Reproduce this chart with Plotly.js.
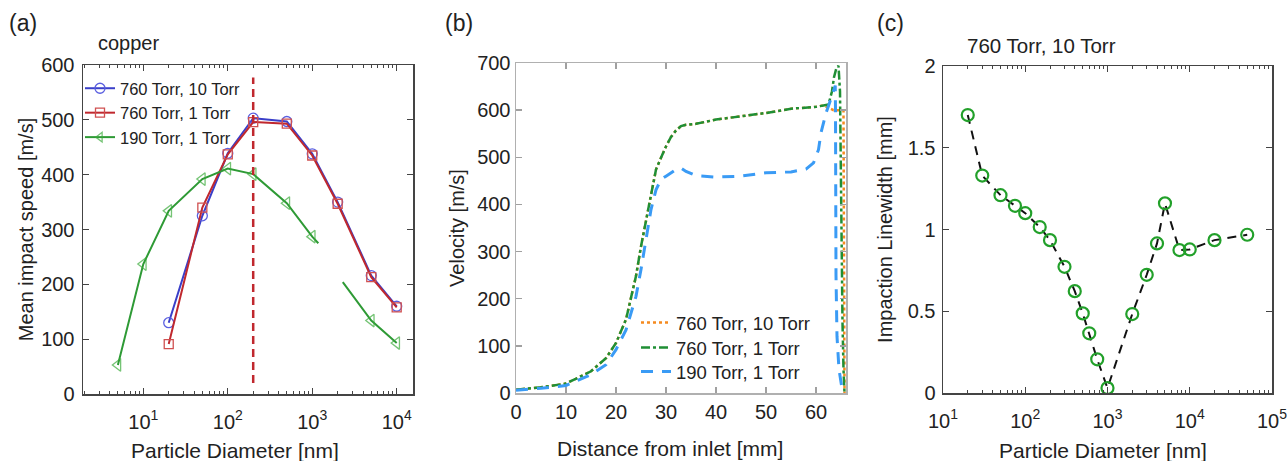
<!DOCTYPE html>
<html>
<head>
<meta charset="utf-8">
<script src="https://cdn.plot.ly/plotly-3.0.1.min.js"></script>
<style>
  html, body { margin: 0; padding: 0; background: #ffffff; }
  #chart { width: 1287px; height: 461px; }
</style>
</head>
<body>
<div id="chart"></div>
<script>
// ---- (a) copper: mean impact speed vs particle diameter ----
const diamA = [20, 50, 100, 200, 500, 1000, 2000, 5000, 10000];
const speed760_10 = [130, 325, 439, 503, 497, 438, 350, 216, 160];
const speed760_1 = [91, 340, 437, 496, 493, 435, 347, 213, 158];
// 190 Torr series: the line is broken between ~1.2 um and ~2.3 um
const diam190 = [5, 10, 20, 50, 100, 200, 500, 1000, 1180, null, 2300, 5000, 10000];
const speed190_1 = [53, 237, 334, 392, 411, 401, 348, 287, 275, null, 204, 134, 93];
const hasMarker190 = [1, 1, 1, 1, 1, 1, 1, 1, 0, 0, 0, 1, 1];
const cutDiam = 200;
const cutSpan = [20, 577];
const decadeTicksA = [10, 100, 1000, 10000];
const decadeLabelsA = ['10<sup>1</sup>', '10<sup>2</sup>', '10<sup>3</sup>', '10<sup>4</sup>'];

// ---- (b) particle velocity along the nozzle ----
const dist760_10 = [0, 5, 10, 15, 18, 20, 22, 24, 25, 26, 27, 28, 29, 30, 31, 32, 33, 34, 36, 40, 45, 50, 55, 60, 61.5, 62.5, 63.5, 65.5, 65.6, 65.7];
const vel760_10 = [7, 12, 20, 46, 74, 106, 156, 248, 311, 368, 417, 474, 499, 523, 543, 557, 566, 569, 571, 580, 587, 594, 603, 607, 610, 605, 600, 600, 300, 0];
const dist760_1 = [0, 5, 10, 15, 18, 20, 22, 24, 25, 26, 27, 28, 29, 30, 31, 32, 33, 34, 36, 40, 45, 50, 55, 60, 61.5, 62.5, 63.2, 63.6, 64.1, 64.5, 64.8, 64.9, 65.1, 65.3, 65.5, 65.7];
const vel760_1 = [7, 12, 20, 46, 74, 106, 156, 248, 311, 368, 417, 474, 499, 523, 543, 557, 566, 569, 571, 580, 587, 594, 603, 607, 610, 612, 640, 670, 690, 694, 640, 500, 300, 150, 50, 0];
const dist190_1 = [0, 5, 10, 15, 18, 20, 22, 24, 25, 26, 27, 28, 29, 30, 32, 33, 34, 36, 40, 45, 50, 55, 58, 59.5, 60.5, 61, 62, 62.7, 63.5, 63.85, 63.9, 63.95, 64.0, 64.2, 64.6, 65.2, 65.6];
const vel190_1 = [6, 10, 16, 39, 60, 92, 134, 205, 262, 329, 389, 431, 453, 460, 474, 477, 470, 461, 458, 460, 467, 469, 475, 488, 516, 552, 594, 615, 644, 652, 600, 400, 250, 120, 50, 10, 0];

// ---- (c) 760 Torr, 10 Torr: impaction linewidth vs particle diameter ----
const diamC = [20, 30, 50, 75, 100, 150, 200, 300, 400, 500, 600, 750, 1000, 2000, 3000, 4000, 5000, 7500, 10000, 20000, 50000];
const linewidthC = [1.70, 1.33, 1.21, 1.145, 1.10, 1.015, 0.935, 0.772, 0.623, 0.487, 0.365, 0.206, 0.03, 0.483, 0.723, 0.915, 1.16, 0.874, 0.878, 0.935, 0.968];
const decadeTicksC = [10, 100, 1000, 10000, 100000];
const decadeLabelsC = ['10<sup>1</sup>', '10<sup>2</sup>', '10<sup>3</sup>', '10<sup>4</sup>', '10<sup>5</sup>'];

const W = 1287, H = 461;
const px = v => v / W;
const py = v => 1 - v / H;

const FONT = '"Liberation Sans", Arial, Helvetica, sans-serif';
const TEXT = '#222222';

// minor log ticks at 2..9 times each power of ten
function minorLogTicks(fromExp, toExp) {
  const out = [];
  for (let e = fromExp; e < toExp; e++) {
    for (let m = 2; m <= 9; m++) out.push(m * Math.pow(10, e));
  }
  return out;
}

const traces = [
  {
    x: diamA, y: speed760_10, xaxis: 'x', yaxis: 'y',
    name: '760 Torr, 10 Torr', mode: 'lines+markers',
    line: { color: '#3a3fc9', width: 2 },
    marker: { symbol: 'circle-open', size: 10, color: '#5a5fe0', line: { width: 1.3 } },
    legend: 'legend'
  },
  {
    x: diamA, y: speed760_1, xaxis: 'x', yaxis: 'y',
    name: '760 Torr, 1 Torr', mode: 'lines+markers',
    line: { color: '#c0282e', width: 2 },
    marker: { symbol: 'square-open', size: 9, color: '#d05050', line: { width: 1.3 } },
    legend: 'legend'
  },
  {
    x: diam190, y: speed190_1, xaxis: 'x', yaxis: 'y',
    name: '190 Torr, 1 Torr', mode: 'lines+markers', connectgaps: false,
    line: { color: '#2e9a35', width: 2 },
    marker: { symbol: 'triangle-left-open', size: hasMarker190.map(m => m ? 11 : 0), color: '#3aab3a', line: { width: 1.3 } },
    legend: 'legend'
  },
  {
    x: [cutDiam, cutDiam], y: cutSpan, xaxis: 'x', yaxis: 'y',
    mode: 'lines', showlegend: false, hoverinfo: 'skip',
    line: { color: '#c0282e', width: 2.5, dash: '8px,5px' }
  },
  {
    x: dist760_10, y: vel760_10, xaxis: 'x2', yaxis: 'y2',
    name: '760 Torr, 10 Torr', mode: 'lines',
    line: { color: '#f58a1f', width: 2.5, dash: 'dot' },
    legend: 'legend2'
  },
  {
    x: dist760_1, y: vel760_1, xaxis: 'x2', yaxis: 'y2',
    name: '760 Torr, 1 Torr', mode: 'lines',
    line: { color: '#1f8f35', width: 2.5, dash: 'dashdot' },
    legend: 'legend3'
  },
  {
    x: dist190_1, y: vel190_1, xaxis: 'x2', yaxis: 'y2',
    name: '190 Torr, 1 Torr', mode: 'lines',
    line: { color: '#3a9bf5', width: 3, dash: '12px,9px' },
    legend: 'legend4'
  },
  {
    x: diamC, y: linewidthC, xaxis: 'x3', yaxis: 'y3',
    name: '760 Torr, 10 Torr', mode: 'lines+markers', showlegend: false,
    line: { color: '#111111', width: 2, dash: '9px,7px' },
    marker: { symbol: 'circle-open', size: 12, color: '#22a02a', line: { width: 2.2 } }
  }
];

const tickFont = { family: FONT, size: 20, color: TEXT };
const xTitleFont = { family: FONT, size: 21, color: TEXT };
const yTitleFont = { family: FONT, size: 20, color: TEXT };

const darkAxis = {
  showline: true, linecolor: '#444444', linewidth: 1.5, mirror: 'ticks',
  ticks: 'inside', ticklen: 6, tickwidth: 1.3, tickcolor: '#444444',
  showgrid: false, zeroline: false, automargin: false,
  tickfont: tickFont
};
const lightAxis = Object.assign({}, darkAxis, { linecolor: '#b0b0b0', tickcolor: '#a0a0a0' });
const logMinor = (a, b) => ({
  tickmode: 'array', tickvals: minorLogTicks(a, b),
  ticks: 'inside', ticklen: 3, tickwidth: 1, tickcolor: '#444444', showgrid: false
});

// axis captions under each panel
const caption = (text, x, y) => ({
  text: text, x: px(x), y: py(y), xref: 'paper', yref: 'paper',
  xanchor: 'center', yanchor: 'middle', showarrow: false, font: xTitleFont
});
const label = (text, x, y, size) => ({
  text: text, x: px(x), y: py(y), xref: 'paper', yref: 'paper',
  xanchor: 'left', yanchor: 'middle', showarrow: false,
  font: { family: FONT, size: size, color: TEXT }
});
// one-entry legend boxes for panel (b), stacked tightly
const velocityLegend = yMid => ({
  x: px(636), y: py(yMid), xanchor: 'left', yanchor: 'middle',
  bgcolor: 'rgba(0,0,0,0)', borderwidth: 0,
  font: { family: FONT, size: 18.5, color: TEXT }
});

const layout = {
  width: W, height: H,
  margin: { l: 0, r: 0, t: 0, b: 0 },
  paper_bgcolor: '#ffffff', plot_bgcolor: '#ffffff',
  font: { family: FONT, color: TEXT },
  showlegend: true,
  xaxis: Object.assign({}, darkAxis, {
    domain: [px(83), px(413)], anchor: 'y',
    type: 'log', range: [0.286, 4.193],
    tickmode: 'array', tickvals: decadeTicksA, ticktext: decadeLabelsA,
    ticklabelstandoff: 9, ticklabeloverflow: 'allow',
    minor: logMinor(0, 4)
  }),
  yaxis: Object.assign({}, darkAxis, {
    domain: [1 - 394 / H, 1 - 65 / H], anchor: 'x',
    range: [0, 600], dtick: 100, ticklabelstandoff: 3,
    title: { text: 'Mean impact speed [m/s]', standoff: 2, font: yTitleFont }
  }),
  xaxis2: Object.assign({}, lightAxis, {
    domain: [px(516), px(846)], anchor: 'y2',
    range: [0, 66], dtick: 10
  }),
  yaxis2: Object.assign({}, lightAxis, {
    domain: [1 - 393 / H, 1 - 63 / H], anchor: 'x2',
    range: [0, 700], dtick: 100,
    title: { text: 'Velocity [m/s]', standoff: 7, font: yTitleFont }
  }),
  xaxis3: Object.assign({}, darkAxis, {
    domain: [px(943), px(1272)], anchor: 'y3',
    type: 'log', range: [1, 5.0002],
    tickmode: 'array', tickvals: decadeTicksC, ticktext: decadeLabelsC,
    ticklabelstandoff: 9, ticklabeloverflow: 'allow',
    minor: logMinor(1, 5)
  }),
  yaxis3: Object.assign({}, darkAxis, {
    domain: [1 - 393 / H, 1 - 66 / H], anchor: 'x3',
    range: [0, 2], dtick: 0.5, ticklabelstandoff: 2,
    title: { text: 'Impaction Linewidth [mm]', standoff: 9, font: yTitleFont }
  }),
  legend: {
    x: px(80), y: py(71), xanchor: 'left', yanchor: 'top',
    bgcolor: 'rgba(0,0,0,0)', borderwidth: 0, tracegroupgap: 0,
    font: { family: FONT, size: 16.5, color: TEXT }
  },
  legend2: velocityLegend(323),
  legend3: velocityLegend(348),
  legend4: velocityLegend(372),
  annotations: [
    caption('Particle Diameter [nm]', 235, 450),
    caption('Distance from inlet [mm]', 670, 448),
    caption('Particle Diameter [nm]', 1103, 450),
    label('(a)', 7, 23, 23),
    label('copper', 96, 43, 20),
    label('(b)', 443, 23, 23),
    label('(c)', 875, 23, 23),
    label('760 Torr, 10 Torr', 965, 45, 20.5)
  ]
};

Plotly.newPlot('chart', traces, layout, { staticPlot: true, displayModeBar: false });
</script>
</body>
</html>
